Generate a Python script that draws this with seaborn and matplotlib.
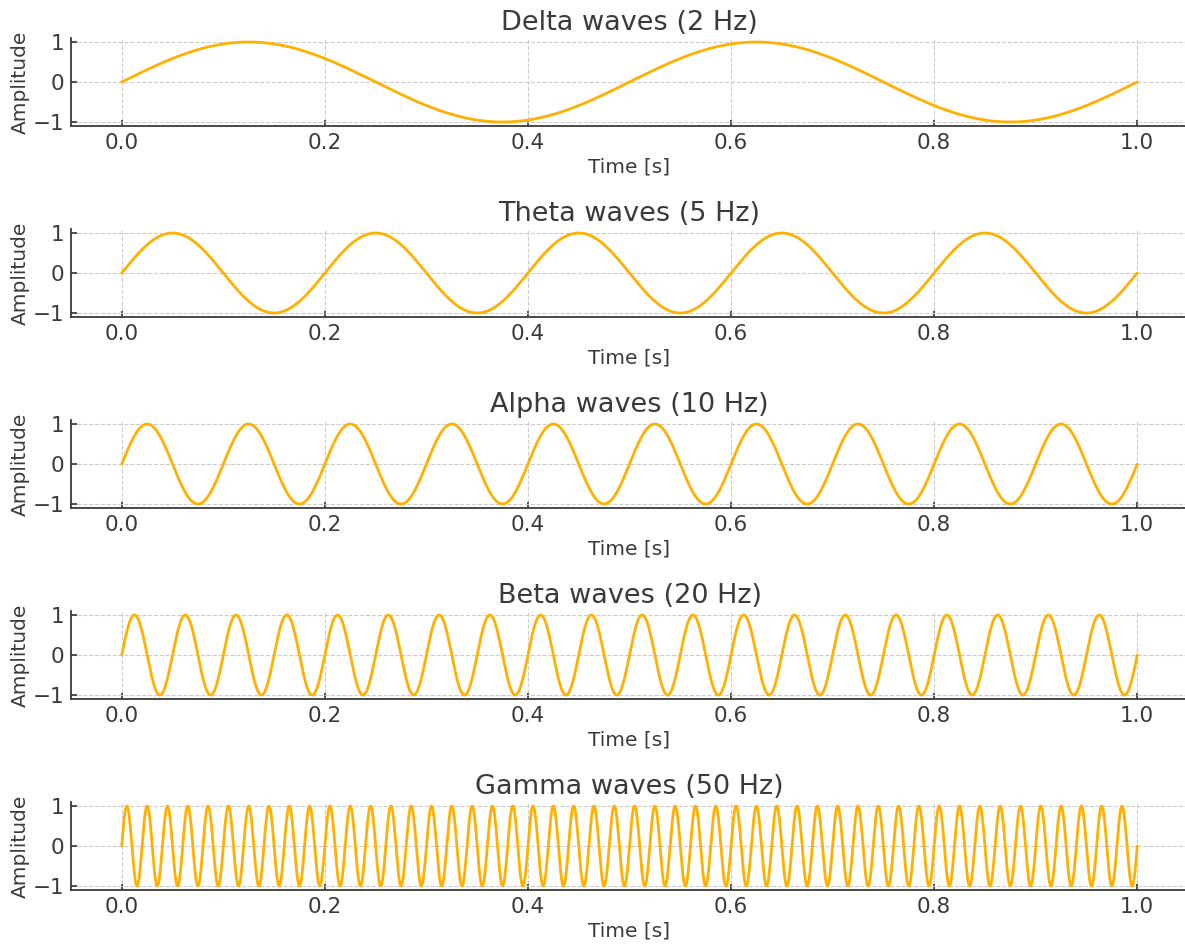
import numpy as np
import pandas as pd
import matplotlib
matplotlib.use("Agg")
import matplotlib.pyplot as plt
import seaborn as sns

# wave bands and their frequencies (from the panel titles)
wave_names = ["Delta", "Theta", "Alpha", "Beta", "Gamma"]
wave_freqs = [2, 5, 10, 20, 50]
x_ticks = [0.0, 0.2, 0.4, 0.6, 0.8, 1.0]
y_ticks = [-1, 0, 1]

sns.set_theme(style="ticks")
plt.rcParams['font.family'] = ['DejaVu Sans']
text_col = "#3a3a3a"

t = np.linspace(0, 1, 2000)

fig = plt.figure(figsize=(11.85, 9.47), dpi=100)
W, H = 1185.0, 947.0
for i, (name, f) in enumerate(zip(wave_names, wave_freqs)):
    top = 38 + 191 * i
    bot = 126 + 191 * i
    ax = fig.add_axes([71 / W, 1 - bot / H, (1188 - 71) / W, (bot - top) / H])
    df = pd.DataFrame({"Time": t, "Amplitude": np.sin(2 * np.pi * f * t)})
    sns.lineplot(data=df, x="Time", y="Amplitude", ax=ax, color="#FFB000", linewidth=2)
    ax.set_xticks(x_ticks)
    ax.set_yticks(y_ticks)
    ax.set_xlim(-0.05, 1.05)
    ax.set_ylim(-1.1, 1.1)
    ax.grid(True, linestyle="--", color="#cccccc", linewidth=0.8)
    ax.set_title(f"{name} waves ({f} Hz)", fontsize=19.5, color=text_col, pad=6)
    ax.set_xlabel("Time [s]", fontsize=14.5, color=text_col, labelpad=3)
    ax.set_ylabel("Amplitude", fontsize=14.5, color=text_col, labelpad=2)
    ax.tick_params(direction="in", labelsize=15.5, colors=text_col, length=4, pad=5)
    for s in ["top", "right"]:
        ax.spines[s].set_visible(False)
    for s in ["left", "bottom"]:
        ax.spines[s].set_color(text_col)
        ax.spines[s].set_linewidth(1.3)

fig.savefig("out.png", dpi=100)
